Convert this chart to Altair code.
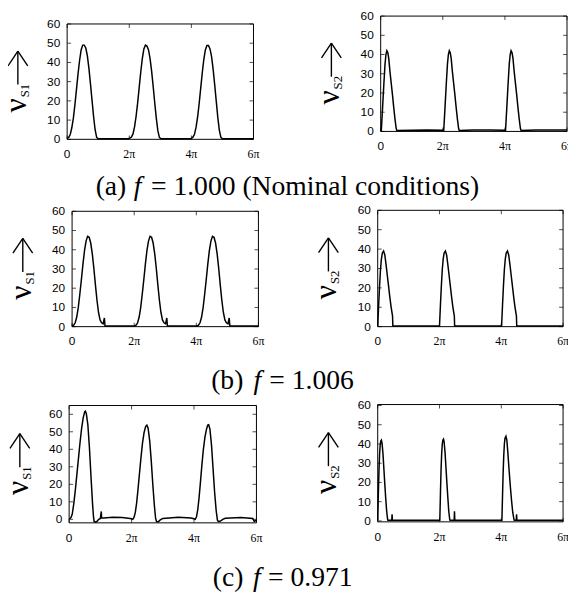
import altair as alt
import pandas as pd

# ---------------- data (x in units of pi) ----------------
# (a) f = 1.000, v_S1
A1_X = [0, .05, .1, .15, .2, .25, .3, .35, .4, .45, .5, .55, .6, .65, .7, .75, .8, .85, .9, .95, 1.0, 1.5, 1.97,
        2.02, 2.07, 2.12, 2.17, 2.22, 2.27, 2.32, 2.37, 2.42, 2.47, 2.52, 2.57, 2.62, 2.67, 2.72, 2.77, 2.82, 2.87, 2.92, 2.97, 3.02, 3.5, 3.97,
        4.0, 4.05, 4.1, 4.15, 4.2, 4.25, 4.3, 4.35, 4.4, 4.45, 4.5, 4.55, 4.6, 4.65, 4.7, 4.75, 4.8, 4.85, 4.9, 4.95, 5.0, 5.5, 6.0]
A1_Y = [0.5, 1, 2.5, 6, 11, 18, 26, 34, 41, 46.5, 49, 49, 47.5, 43.5, 37, 29, 20.5, 12, 5, 1, 0.3, 0.3, 0.3,
        0.6, 1.2, 2.8, 6.5, 12, 19, 27, 35, 42, 47, 49, 48.5, 46.5, 42, 35.5, 27.5, 19, 11, 4.5, 1, 0.3, 0.3, 0.3,
        0.5, 1.1, 2.6, 6.2, 11.5, 18.5, 26.5, 34.5, 41.5, 46.5, 48.8, 48.8, 47, 43, 36.5, 28.5, 20, 11.5, 4.8, 1, 0.3, 0.3, 0.3]

# (a) f = 1.000, v_S2
A2_X = [0, 0.02, 0.06, 0.10, 0.14, 0.17, 0.20, 0.23, 0.26, 0.30, 0.34, 0.38, 0.42, 0.46, 0.50, 0.52, 1.0, 1.5, 2.01,
        2.03, 2.07, 2.11, 2.15, 2.18, 2.21, 2.24, 2.27, 2.31, 2.35, 2.39, 2.43, 2.47, 2.51, 2.53, 3.0, 3.5, 4.0,
        4.02, 4.06, 4.10, 4.14, 4.17, 4.20, 4.23, 4.26, 4.30, 4.34, 4.38, 4.42, 4.46, 4.50, 4.52, 5.0, 5.5, 6.0]
A2_Y = [0.3, 0.5, 12, 24, 35, 40, 42, 41, 38, 31, 25, 19, 12.5, 6.5, 1.5, 0.5, 0.6, 0.7, 0.6,
        0.5, 12, 24, 35, 40, 42, 41, 38, 31, 25, 19, 12.5, 6.5, 1.5, 0.5, 0.7, 0.7, 0.6,
        0.5, 12, 24, 35, 40, 42, 41, 38, 31, 25, 19, 12.5, 6.5, 1.5, 0.5, 0.7, 0.8, 0.8]

# (b) f = 1.006, v_S1
B1_X = [0, .05, .1, .15, .2, .25, .3, .35, .4, .45, .5, .55, .6, .65, .7, .75, .8, .85, .9, .95, 1.0, 1.04, 1.06, 1.5, 2.0,
        2.01, 2.06, 2.11, 2.16, 2.21, 2.26, 2.31, 2.36, 2.41, 2.46, 2.51, 2.56, 2.61, 2.66, 2.71, 2.76, 2.81, 2.86, 2.91, 2.96, 3.01, 3.05, 3.07, 3.5, 4.0,
        4.02, 4.07, 4.12, 4.17, 4.22, 4.27, 4.32, 4.37, 4.42, 4.47, 4.52, 4.57, 4.62, 4.67, 4.72, 4.77, 4.82, 4.87, 4.92, 4.97, 5.02, 5.06, 5.08, 5.5, 6.0]
B1_Y = [0.3, 0.8, 2, 5, 10, 17, 24.5, 32.5, 39.5, 44.5, 47, 46.5, 43.5, 38, 30.5, 22, 14, 7.5, 3.5, 2, 1.5, 4.5, 0.3, 0.3, 0.3,
        0.3, 0.8, 2, 5, 10, 17, 24.5, 32.5, 39.5, 44.5, 47, 46.5, 43.5, 38, 30.5, 22, 14, 7.5, 3.5, 2, 1.5, 4.5, 0.3, 0.3, 0.3,
        0.3, 0.8, 2, 5, 10, 17, 24.5, 32.5, 39.5, 44.5, 47, 46.5, 43.5, 38, 30.5, 22, 14, 7.5, 3.5, 2, 1.5, 4.5, 0.3, 0.3, 0.3]

# (b) f = 1.006, v_S2
B2_X = [0, .03, .06, .09, .12, .15, .19, .23, .27, .31, .35, .39, .43, .47, .48, .49, 1.0, 1.5, 2.0,
        2.0, 2.03, 2.06, 2.09, 2.12, 2.15, 2.19, 2.23, 2.27, 2.31, 2.35, 2.39, 2.43, 2.47, 2.48, 2.49, 3.0, 3.5, 4.01,
        4.01, 4.04, 4.07, 4.10, 4.13, 4.16, 4.20, 4.24, 4.28, 4.32, 4.36, 4.40, 4.44, 4.48, 4.49, 4.50, 5.0, 5.5, 6.0]
B2_Y = [0.3, 11, 21, 29.5, 35, 38, 39, 37, 32, 26.5, 21, 15.5, 10.5, 6.5, 5.5, 0.3, 0.3, 0.3, 0.3,
        0.3, 11, 21, 29.5, 35, 38, 39, 37, 32, 26.5, 21, 15.5, 10.5, 6.5, 5.5, 0.3, 0.3, 0.3, 0.3,
        0.3, 11, 21, 29.5, 35, 38, 39, 37, 32, 26.5, 21, 15.5, 10.5, 6.5, 5.5, 0.3, 0.3, 0.3, 0.3]

# (c) f = 0.971, v_S1
C1_X = [0, .03, .06, .1, .15, .2, .25, .3, .35, .4, .45, .5, .52, .55, .6, .65, .7, .75, .78, .8, .85, .9, .95, 1.0, 1.03, 1.04, 1.1, 1.4, 1.7, 1.95,
        2.0, 2.04, 2.08, 2.12, 2.16, 2.2, 2.25, 2.3, 2.35, 2.4, 2.45, 2.49, 2.53, 2.58, 2.63, 2.68, 2.73, 2.77, 2.8, 2.86, 2.92, 3.0, 3.5, 3.9,
        4.0, 4.04, 4.08, 4.12, 4.16, 4.2, 4.25, 4.3, 4.35, 4.4, 4.44, 4.47, 4.51, 4.56, 4.61, 4.66, 4.71, 4.75, 4.78, 4.85, 4.92, 5.0, 5.5, 5.88, 5.93, 6.0]
C1_Y = [0.3, 0.5, 1, 3, 9, 17, 26, 35, 44, 52, 58, 61.5, 61.8, 60.5, 54, 41, 24.5, 9, 1.5, -1.2, -1.6, -1, 0, 0.5, 4.5, 0.8, 0.8, 1.2, 1.0, 0.5,
        0.3, 0, 1.2, 4, 9, 16, 25.5, 35, 43.5, 49.5, 53, 53.8, 52, 45, 33.5, 20, 8, 0.5, -1.2, -1.3, -0.3, 0.5, 1.2, 0.8,
        0.3, 0, 1.5, 5.5, 12, 20, 30.5, 40, 47, 51.5, 53.8, 54, 51.5, 42.5, 29, 15.5, 5, -0.5, -1.2, -1, 0, 0.6, 1, 0.5, -1.2, -0.5]

# (c) f = 0.971, v_S2
C2_X = [0, .02, .04, .06, .08, .10, .12, .14, .17, .20, .23, .26, .29, .32, .33, .455, .465, .475, 1.0, 1.5, 2.01,
        2.01, 2.03, 2.05, 2.07, 2.09, 2.11, 2.13, 2.15, 2.18, 2.21, 2.24, 2.27, 2.30, 2.33, 2.34, 2.475, 2.485, 2.495, 3.0, 3.5, 4.02,
        4.02, 4.04, 4.06, 4.08, 4.10, 4.12, 4.15, 4.18, 4.21, 4.25, 4.29, 4.33, 4.37, 4.41, 4.42, 4.485, 4.495, 4.505, 5.0, 5.5, 6.0]
C2_Y = [0.3, 14, 26, 34.5, 39.5, 41.5, 42, 40.5, 35, 27, 19, 11.5, 5, 0.8, 0.3, 0.3, 3.5, 0.5, 0.3, 0.3, 0.3,
        0.3, 14, 26.5, 35, 40, 42, 42.5, 41, 35.5, 27.5, 19.5, 12, 5, 0.8, 0.3, 0.3, 5, 0.5, 0.3, 0.3, 0.3,
        0.3, 13, 25, 34, 40, 43, 44, 42, 36, 27, 18.5, 11, 4.5, 0.8, 0.3, 0.3, 3.5, 0.5, 0.3, 0.3, 0.3]

X_TICKS = [0, 2, 4, 6]
X_LABELS = ["0", "2π", "4π", "6π"]
Y_TICKS = [0, 10, 20, 30, 40, 50, 60]
Y_LABELS = ["0", "10", "20", "30", "40", "50", "60"]
SUBS = ["S1", "S2", "S1", "S2", "S1", "S2"]
CAP_LEFT = ["(a)", "(b)", "(c)"]
CAP_RIGHT = ["= 1.000 (Nominal conditions)", "= 1.006", "= 0.971"]

# ---------------- layout ----------------
W, H = 568, 588
# plot area per panel: x0, x1, y_top, y_bottom (pixels)
GEOM = [(60, 249, 12, 129), (378, 567, 4, 121),
        (65, 254, 202, 319), (375, 563, 201, 319),
        (62, 252, 399, 518), (375, 563, 398, 517)]
YDOM = [[0, 60], [0, 60], [0, 60], [0, 60], [-2, 65], [-0.5, 60.5]]
SERIES = [(A1_X, A1_Y), (A2_X, A2_Y), (B1_X, B1_Y), (B2_X, B2_Y), (C1_X, C1_Y), (C2_X, C2_Y)]
CAP_POS = [(120, 131.5, 145, 185), (238.7, 253, 265, 382), (238.7, 252.5, 263.7, 582)]


def panel(xs, ys, geom, ydom):
    x0, x1, yt, yb = geom
    xsc = alt.Scale(domain=[0, 6], range=[x0, x1], nice=False, zero=False)
    ysc = alt.Scale(domain=ydom, range=[yb, yt], nice=False, zero=False)
    X = lambda f: alt.X(f, scale=xsc, axis=None)
    Y = lambda f: alt.Y(f, scale=ysc, axis=None)

    line = alt.Chart(pd.DataFrame({"x": xs, "y": ys})).mark_line(
        color="black", strokeWidth=1.5).encode(x=X("x:Q"), y=Y("y:Q"))
    frame = alt.Chart(pd.DataFrame({"x": [0], "x2": [6], "y": [ydom[0]], "y2": [ydom[1]]})).mark_rect(
        fillOpacity=0, stroke="black", strokeWidth=1).encode(
        x=X("x:Q"), x2="x2:Q", y=Y("y:Q"), y2="y2:Q")
    tx = pd.DataFrame({"x": X_TICKS, "t": X_LABELS})
    ty = pd.DataFrame({"y": Y_TICKS, "t": Y_LABELS})
    tb = alt.Chart(tx.assign(y=ydom[0])).mark_tick(orient="vertical", size=4, thickness=1, yOffset=-2,
                                                   color="black").encode(x=X("x:Q"), y=Y("y:Q"))
    tt = alt.Chart(tx.assign(y=ydom[1])).mark_tick(orient="vertical", size=4, thickness=1, yOffset=2,
                                                   color="black").encode(x=X("x:Q"), y=Y("y:Q"))
    tl = alt.Chart(ty.assign(x=0)).mark_tick(orient="horizontal", size=4, thickness=1, xOffset=2,
                                             color="black").encode(x=X("x:Q"), y=Y("y:Q"))
    tr = alt.Chart(ty.assign(x=6)).mark_tick(orient="horizontal", size=4, thickness=1, xOffset=-2,
                                             color="black").encode(x=X("x:Q"), y=Y("y:Q"))
    # tick labels
    ylab = alt.Chart(ty.assign(x=0)).mark_text(
        align="right", baseline="middle", xOffset=-7, font="Liberation Sans", fontSize=12,
        color="black").encode(x=X("x:Q"), y=Y("y:Q"), text="t:N")
    xlab0 = alt.Chart(tx.iloc[:1].assign(y=ydom[0])).mark_text(
        align="center", baseline="middle", yOffset=15, font="Liberation Sans", fontSize=12,
        color="black").encode(x=X("x:Q"), y=Y("y:Q"), text="t:N")
    xlabp = alt.Chart(tx.iloc[1:].assign(y=ydom[0])).mark_text(
        align="center", baseline="middle", yOffset=15, font="Liberation Serif", fontSize=12,
        color="black").encode(x=X("x:Q"), y=Y("y:Q"), text="t:N")
    return alt.layer(frame, tb, tt, tl, tr, ylab, xlab0, xlabp, line)


panels = [panel(xs, ys, g, d) for (xs, ys), g, d in zip(SERIES, GEOM, YDOM)]

# y-axis labels: nu + subscript + arrow
nu_rows, sub_rows, arr_rows = [], [], []
for (x0, x1, yt, yb), s in zip(GEOM, SUBS):
    c = (yt + yb) / 2
    nu_rows.append({"x": x0 - 42, "y": c + 24, "t": "ν"})
    sub_rows.append({"x": x0 - 39, "y": c + 9, "t": s})
    ax = x0 - 50
    arr_rows += [{"x": ax, "y": c - 31, "x2": ax, "y2": c + 3},
                 {"x": ax, "y": c - 31, "x2": ax - 10, "y2": c - 16},
                 {"x": ax, "y": c - 31, "x2": ax + 10, "y2": c - 16}]

PX = dict(x=alt.X("x:Q", scale=None, axis=None), y=alt.Y("y:Q", scale=None, axis=None))

nu = alt.Chart(pd.DataFrame(nu_rows)).mark_text(
    angle=270, align="center", baseline="alphabetic", font="Liberation Serif", fontSize=32,
    color="black").encode(text="t:N", **PX)
sub = alt.Chart(pd.DataFrame(sub_rows)).mark_text(
    angle=270, align="center", baseline="alphabetic", font="Liberation Serif", fontSize=13,
    color="black").encode(text="t:N", **PX)
arrows = alt.Chart(pd.DataFrame(arr_rows)).mark_rule(color="black", strokeWidth=1.4).encode(
    x2="x2:Q", y2="y2:Q", **PX)

cap_l = alt.Chart(pd.DataFrame({"t": CAP_LEFT, "x": [p[0] for p in CAP_POS], "y": [p[3] for p in CAP_POS]})).mark_text(
    align="right", baseline="alphabetic", font="Liberation Serif", fontSize=28, color="black").encode(
    text="t:N", **PX)
cap_f = alt.Chart(pd.DataFrame({"t": ["f"] * 3, "x": [p[1] for p in CAP_POS], "y": [p[3] for p in CAP_POS]})).mark_text(
    align="center", baseline="alphabetic", font="Liberation Serif", fontStyle="italic", fontSize=28,
    color="black").encode(text="t:N", **PX)
cap_r = alt.Chart(pd.DataFrame({"t": CAP_RIGHT, "x": [p[2] for p in CAP_POS], "y": [p[3] for p in CAP_POS]})).mark_text(
    align="left", baseline="alphabetic", font="Liberation Serif", fontSize=28, color="black").encode(
    text="t:N", **PX)

chart = alt.layer(*panels, nu, sub, arrows, cap_l, cap_f, cap_r).resolve_scale(
    x="independent", y="independent").properties(
    width=W, height=H, autosize=alt.AutoSizeParams(type="none"), padding=0).configure_view(stroke=None)

chart.save("out.html", embed_options={"renderer": "svg", "actions": False})
